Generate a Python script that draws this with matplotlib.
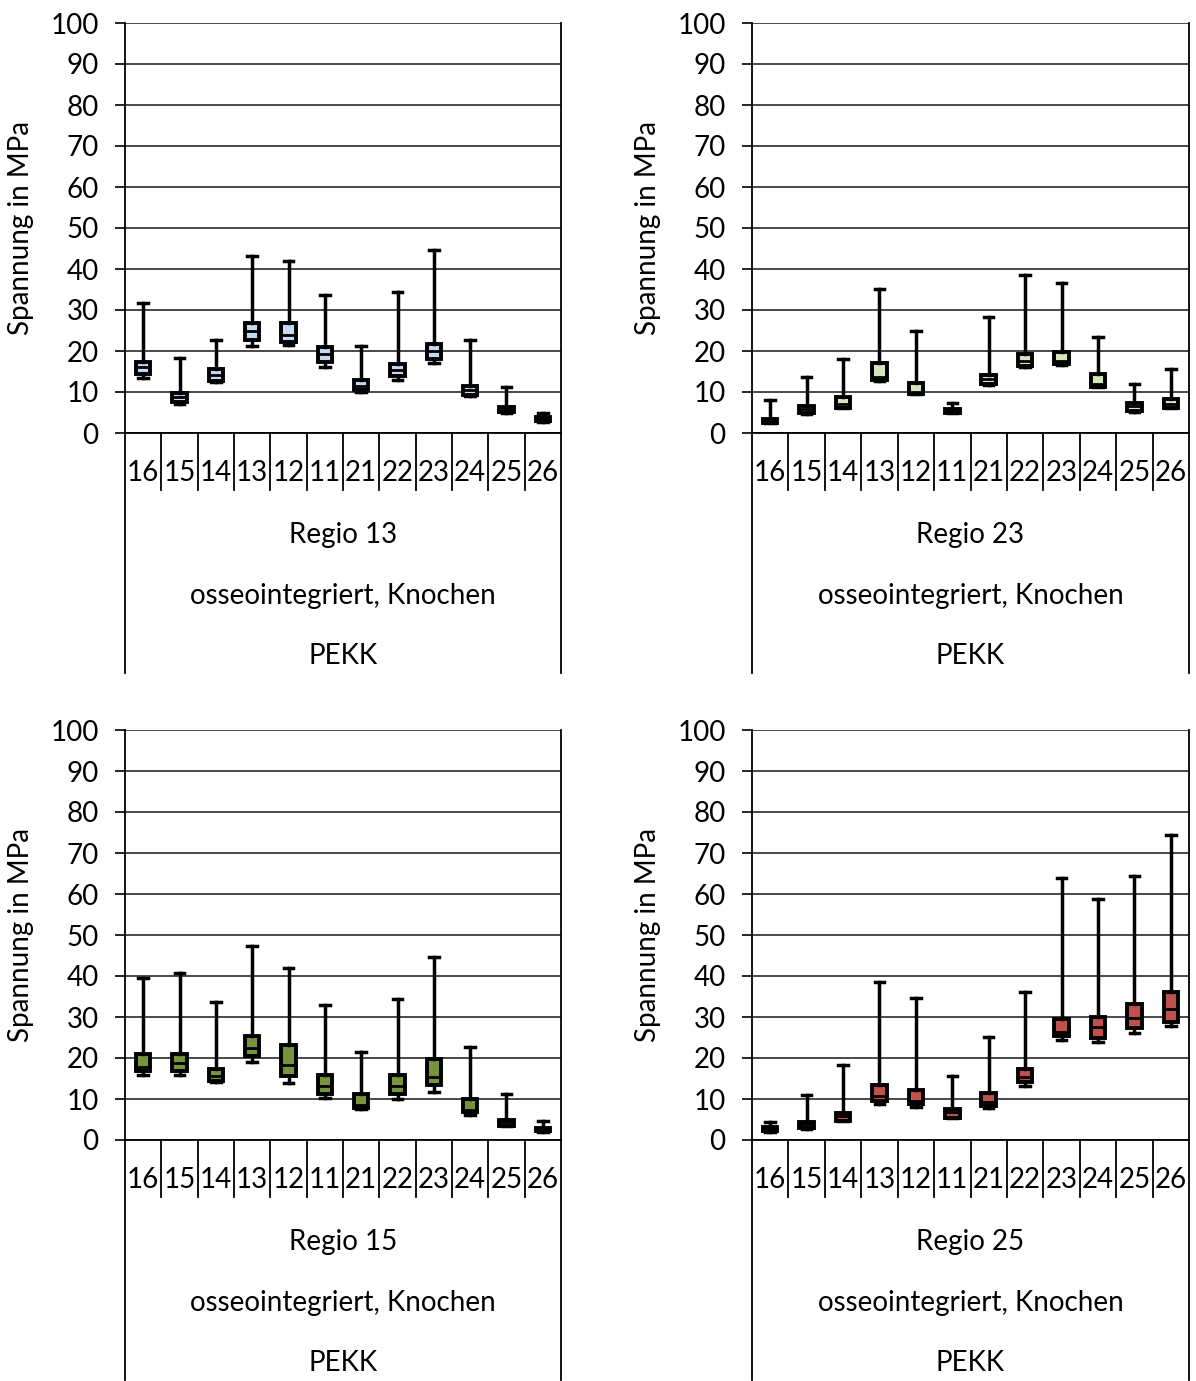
import matplotlib
matplotlib.use("Agg")
import matplotlib.pyplot as plt
import matplotlib.transforms as mtransforms

plt.rcParams['font.family'] = ['Lato', 'DejaVu Sans']

teeth = ["16", "15", "14", "13", "12", "11", "21", "22", "23", "24", "25", "26"]
y_ticks = [0, 10, 20, 30, 40, 50, 60, 70, 80, 90, 100]

# Regio 13 (light blue)
r13_min = [13.3, 7.0, 12.5, 21.2, 21.4, 16.2, 10.0, 12.9, 17.0, 9.0, 5.0, 2.8]
r13_q1 = [14.5, 7.6, 12.8, 22.7, 22.3, 17.2, 10.4, 13.9, 18.0, 9.3, 5.1, 2.9]
r13_med = [16.0, 8.9, 14.1, 24.9, 23.9, 19.2, 11.5, 15.4, 20.0, 10.6, 5.8, 3.4]
r13_q3 = [17.3, 9.7, 15.5, 26.8, 26.8, 21.0, 13.0, 16.8, 21.7, 11.5, 6.3, 4.0]
r13_max = [31.8, 18.3, 22.8, 43.2, 42.0, 33.7, 21.3, 34.5, 44.6, 22.8, 11.2, 5.0]

# Regio 23 (light green)
r23_min = [2.4, 4.6, 6.0, 12.8, 9.5, 4.8, 11.8, 16.2, 16.6, 11.1, 5.2, 6.0]
r23_q1 = [2.5, 4.8, 6.1, 13.0, 9.6, 4.9, 12.0, 16.4, 16.8, 11.3, 5.4, 6.2]
r23_med = [3.0, 5.9, 7.0, 13.7, 10.1, 5.4, 13.2, 17.6, 17.6, 12.0, 6.7, 7.1]
r23_q3 = [3.5, 6.5, 8.8, 17.0, 12.3, 5.9, 14.2, 19.2, 19.7, 14.5, 7.3, 8.4]
r23_max = [8.0, 13.7, 18.0, 35.1, 24.9, 7.2, 28.2, 38.5, 36.7, 23.5, 12.0, 15.6]

# Regio 15 (olive green)
r15_min = [15.9, 15.9, 14.2, 19.0, 14.0, 10.3, 7.6, 9.9, 11.8, 6.1, 3.3, 2.0]
r15_q1 = [16.8, 16.8, 14.4, 20.4, 15.6, 11.1, 7.8, 11.1, 13.3, 6.8, 3.4, 2.1]
r15_med = [17.9, 18.9, 15.7, 22.4, 18.3, 13.2, 8.5, 13.2, 15.3, 7.3, 4.3, 2.5]
r15_q3 = [20.9, 20.9, 17.2, 25.3, 23.1, 15.8, 11.1, 15.8, 19.8, 9.9, 4.9, 2.9]
r15_max = [39.4, 40.7, 33.6, 47.2, 42.0, 32.9, 21.5, 34.4, 44.6, 22.8, 11.1, 4.6]

# Regio 25 (red)
r25_min = [2.0, 2.8, 4.6, 8.9, 8.1, 5.3, 7.7, 13.2, 24.5, 23.8, 26.0, 27.8]
r25_q1 = [2.1, 2.9, 4.7, 9.6, 8.8, 5.4, 8.4, 14.2, 25.4, 25.0, 27.2, 28.9]
r25_med = [2.7, 3.9, 5.9, 10.7, 9.5, 6.8, 9.2, 15.3, 26.3, 27.6, 29.8, 31.9]
r25_q3 = [3.2, 4.4, 6.7, 13.5, 12.1, 7.5, 11.4, 17.3, 29.6, 30.0, 33.2, 36.1]
r25_max = [4.5, 11.0, 18.3, 38.6, 34.7, 15.7, 25.2, 36.0, 63.8, 58.7, 64.5, 74.4]

panels = [
    ("Regio 13", "#C6D9F1", r13_min, r13_q1, r13_med, r13_q3, r13_max),
    ("Regio 23", "#D7E4BD", r23_min, r23_q1, r23_med, r23_q3, r23_max),
    ("Regio 15", "#77933C", r15_min, r15_q1, r15_med, r15_q3, r15_max),
    ("Regio 25", "#C0504D", r25_min, r25_q1, r25_med, r25_q3, r25_max),
]
group_line = "osseointegriert, Knochen"
material = "PEKK"
ylabel = "Spannung in MPa"

W, H = 1196, 1381
fig = plt.figure(figsize=(W / 100, H / 100), dpi=100)

# pixel boxes: left, right, top(100), bottom(0)
boxes_px = [(125, 561, 23, 433), (752, 1189, 23, 433),
            (125, 561, 730, 1140), (752, 1189, 730, 1140)]

FS = 20
for (title, color, mn, q1, md, q3, mx), (l, r, t, b) in zip(panels, boxes_px):
    ax = fig.add_axes([l / W, 1 - b / H, (r - l) / W, (b - t) / H])
    stats = []
    for i in range(len(teeth)):
        stats.append(dict(whislo=mn[i], q1=q1[i], med=md[i], q3=q3[i],
                          whishi=mx[i], fliers=[], label=teeth[i]))
    ax.bxp(stats, positions=range(len(teeth)), widths=0.40,
           patch_artist=True, showfliers=False, capwidths=0.26,
           boxprops=dict(facecolor=color, edgecolor='black', linewidth=2.8),
           medianprops=dict(color='black', linewidth=2.0),
           whiskerprops=dict(color='black', linewidth=2.5),
           capprops=dict(color='black', linewidth=2.5),
           zorder=3)
    ax.set_xlim(-0.5, len(teeth) - 0.5)
    ax.set_ylim(0, 100)
    ax.set_yticks(y_ticks)
    ax.set_yticklabels([str(v) for v in y_ticks], fontsize=FS)
    ax.tick_params(axis='y', length=7, width=1.2, pad=12, color='black')
    ax.set_xticks([])
    ax.yaxis.grid(True, color='#3a3a3a', linewidth=1.3, zorder=0)
    ax.set_axisbelow(True)
    ax.spines['top'].set_visible(False)
    for s in ['left', 'right', 'bottom']:
        ax.spines[s].set_color('black')
        ax.spines[s].set_linewidth(1.3)
    ax.set_ylabel(ylabel, fontsize=FS, labelpad=12)

    trans = mtransforms.blended_transform_factory(ax.transData, ax.transAxes)
    n = len(teeth)
    for k in range(1, n):
        ax.plot([k - 0.5, k - 0.5], [0, -0.139], transform=trans,
                color='black', linewidth=1.3, clip_on=False)
    for k in (-0.5, n - 0.5):
        ax.plot([k, k], [0, -0.585], transform=trans,
                color='black', linewidth=1.3, clip_on=False)
    for i, lab in enumerate(teeth):
        ax.text(i, -0.0976, lab, transform=trans, ha='center', va='center',
                fontsize=FS)
    xc = (n - 1) / 2
    ax.text(xc, -0.249, title, transform=trans, ha='center', va='center', fontsize=FS)
    ax.text(xc, -0.398, group_line, transform=trans, ha='center', va='center', fontsize=FS)
    ax.text(xc, -0.544, material, transform=trans, ha='center', va='center', fontsize=FS)

fig.savefig("out.png", dpi=100, facecolor='white')
